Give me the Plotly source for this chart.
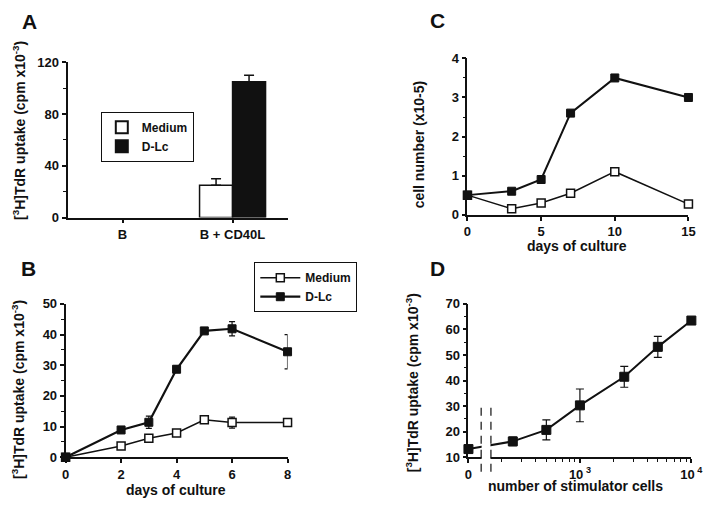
import plotly.graph_objects as go

# ---------------- data ----------------
# Panel A
a_categories = ["B", "B + CD40L"]
a_medium = [None, 25]
a_medium_err = [0, 5]
a_dlc = [None, 105]
a_dlc_err = [0, 5]

# Panel B
b_days = [0, 2, 3, 4, 5, 6, 8]
b_medium = [0, 3.7, 6.2, 7.9, 12.2, 11.3, 11.3]
b_medium_err = [0, 0.5, 1.0, 0.5, 0.5, 1.8, 0.8]
b_dlc = [0, 8.9, 11.4, 28.7, 41.2, 41.9, 34.4]
b_dlc_err = [0, 0.5, 2.0, 1.0, 0.5, 2.3, 5.6]

# Panel C
c_days = [0, 3, 5, 7, 10, 15]
c_medium = [0.5, 0.15, 0.3, 0.55, 1.1, 0.27]
c_dlc = [0.5, 0.6, 0.9, 2.6, 3.5, 3.0]

# Panel D
d_cells = [0, 250, 500, 1000, 2500, 5000, 10000]
d_uptake = [13.2, 16.2, 20.7, 30.3, 41.5, 53.2, 63.5]
d_err = [0.8, 1.7, 3.9, 6.4, 4.1, 4.1, 0.5]
D_ZERO_POS = 100  # position on the log axis where the "0" group is drawn

FONT = "Liberation Sans, Arial, Helvetica, sans-serif"
BLACK = "#111111"

W, H = 720, 506


def px_x(p):
    return p / W


def px_y(p):
    return 1 - p / H


fig = go.Figure()

# ---------------- Panel A ----------------
fig.add_trace(go.Bar(
    x=a_categories, y=a_medium, name="Medium",
    marker=dict(color="white", line=dict(color=BLACK, width=1.5)),
    error_y=dict(type="data", array=a_medium_err, arrayminus=[0, 0], symmetric=False,
                 color=BLACK, thickness=1.5, width=5),
    xaxis="x", yaxis="y", legend="legend",
))
fig.add_trace(go.Bar(
    x=a_categories, y=a_dlc, name="D-Lc",
    marker=dict(color=BLACK, line=dict(color=BLACK, width=1.5)),
    error_y=dict(type="data", array=a_dlc_err, arrayminus=[0, 0], symmetric=False,
                 color=BLACK, thickness=1.5, width=5),
    xaxis="x", yaxis="y", legend="legend",
))

# ---------------- Panel B ----------------
fig.add_trace(go.Scatter(
    x=b_days, y=b_medium, name="Medium", mode="lines+markers",
    line=dict(color=BLACK, width=1.5),
    marker=dict(symbol="square", size=8, color="white", line=dict(color=BLACK, width=1.5)),
    error_y=dict(type="data", array=b_medium_err, color=BLACK, thickness=1.2, width=3),
    xaxis="x2", yaxis="y2", legend="legend2", cliponaxis=False,
))
fig.add_trace(go.Scatter(
    x=b_days, y=b_dlc, name="D-Lc", mode="lines+markers",
    line=dict(color=BLACK, width=2.2),
    marker=dict(symbol="square", size=8, color=BLACK, line=dict(color=BLACK, width=1)),
    error_y=dict(type="data", array=b_dlc_err, color=BLACK, thickness=1.2, width=3),
    xaxis="x2", yaxis="y2", legend="legend2", cliponaxis=False,
))

# ---------------- Panel C ----------------
fig.add_trace(go.Scatter(
    x=c_days, y=c_medium, mode="lines+markers", showlegend=False,
    line=dict(color=BLACK, width=1.5),
    marker=dict(symbol="square", size=8, color="white", line=dict(color=BLACK, width=1.5)),
    xaxis="x3", yaxis="y3", cliponaxis=False,
))
fig.add_trace(go.Scatter(
    x=c_days, y=c_dlc, mode="lines+markers", showlegend=False,
    line=dict(color=BLACK, width=2),
    marker=dict(symbol="square", size=8, color=BLACK, line=dict(color=BLACK, width=1)),
    xaxis="x3", yaxis="y3", cliponaxis=False,
))

# ---------------- Panel D ----------------
d_pos = [D_ZERO_POS if v == 0 else v for v in d_cells]
fig.add_trace(go.Scatter(
    x=d_pos, y=d_uptake, mode="lines+markers", showlegend=False,
    line=dict(color=BLACK, width=2),
    marker=dict(symbol="square", size=9, color=BLACK, line=dict(color=BLACK, width=1)),
    error_y=dict(type="data", array=d_err, color=BLACK, thickness=1.2, width=4),
    xaxis="x4", yaxis="y4", cliponaxis=False,
))

tickfont = dict(family=FONT, size=13, color=BLACK, weight="bold")
common = dict(showline=True, linecolor=BLACK, linewidth=1.8, ticks="outside",
              ticklen=4, tickwidth=1.5, tickcolor=BLACK, showgrid=False,
              zeroline=False, tickfont=tickfont)
minor = dict(ticks="outside", ticklen=3, tickwidth=1, tickcolor=BLACK, showgrid=False)
legend_font = dict(family=FONT, size=12, color=BLACK, weight="bold")

fig.update_layout(
    width=W, height=H, autosize=False,
    margin=dict(l=0, r=0, t=0, b=0),
    paper_bgcolor="white", plot_bgcolor="white",
    font=dict(family=FONT, color=BLACK, size=12, weight="bold"),
    barmode="group", bargap=0.4, bargroupgap=0,
    xaxis=dict(domain=[px_x(65), px_x(290)], anchor="y", type="category",
               range=[-0.5, 1.5], **common),
    yaxis=dict(domain=[px_y(217), px_y(57)], anchor="x", range=[0, 120],
               tickvals=[0, 40, 80, 120], minor=dict(dtick=20, **minor), **common),
    xaxis2=dict(domain=[px_x(63), px_x(290)], anchor="y2", range=[0, 8],
                tickvals=[0, 2, 4, 6, 8], **common),
    yaxis2=dict(domain=[px_y(464), px_y(306)], anchor="x2", range=[0, 50],
                tickvals=[0, 10, 20, 30, 40, 50], minor=dict(dtick=5, **minor), **common),
    xaxis3=dict(domain=[px_x(474), px_x(700)], anchor="y3", range=[0, 15],
                tickvals=[0, 5, 10, 15], **common),
    yaxis3=dict(domain=[px_y(214), px_y(53)], anchor="x3", range=[0, 4],
                tickvals=[0, 1, 2, 3, 4], minor=dict(dtick=0.5, **minor), **common),
    xaxis4=dict(domain=[px_x(475), px_x(703)], anchor="y4", type="log", range=[2, 4],
                tickvals=[D_ZERO_POS, 1000, 10000],
                ticktext=["0", "10<sup> 3</sup>", "10<sup> 4</sup>"],
                minor=dict(tickvals=[200, 300, 400, 500, 600, 700, 800, 900,
                                     2000, 3000, 4000, 5000, 6000, 7000, 8000, 9000],
                           **minor),
                **common),
    yaxis4=dict(domain=[px_y(464), px_y(306)], anchor="x4", range=[10, 70],
                tickvals=[10, 20, 30, 40, 50, 60, 70], minor=dict(dtick=5, tick0=5, **minor),
                **common),
    legend=dict(x=px_x(99), y=px_y(108), xanchor="left", yanchor="top",
                bordercolor=BLACK, borderwidth=1, bgcolor="white",
                font=legend_font, tracegroupgap=0, itemsizing="constant"),
    legend2=dict(x=px_x(256), y=px_y(263), xanchor="left", yanchor="top",
                 bordercolor=BLACK, borderwidth=1, bgcolor="white",
                 font=legend_font, tracegroupgap=0, itemwidth=40),
)

# break in panel D's x axis
fig.add_shape(type="rect", xref="paper", yref="paper",
              x0=px_x(488.5), x1=px_x(497.5), y0=px_y(476), y1=px_y(440),
              fillcolor="white", line=dict(width=0), layer="above")
for bx in (488, 498):
    fig.add_shape(type="line", xref="paper", yref="paper",
                  x0=px_x(bx), x1=px_x(bx), y0=px_y(479), y1=px_y(413),
                  line=dict(color=BLACK, width=1.2, dash="8px,6px"), layer="above")

ann_font = dict(family=FONT, size=14, color=BLACK, weight="bold")
letter_font = dict(family=FONT, size=21, color=BLACK, weight="bold")


def ann(text, x, y, font, angle=0):
    fig.add_annotation(text=text, x=px_x(x), y=px_y(y), xref="paper", yref="paper",
                       showarrow=False, font=font, textangle=angle,
                       xanchor="center", yanchor="middle")


ann("A", 26, 15, letter_font)
ann("B", 25, 270, letter_font)
ann("C", 443, 14, letter_font)
ann("D", 443, 270, letter_font)

ytitle = "[<sup>3</sup>H]TdR uptake (cpm x10<sup>-3</sup>)"
ann(ytitle, 16, 127, ann_font, -90)
ann(ytitle, 15, 394, ann_font, -90)
ann("cell number (x10-5)", 424, 142, ann_font, -90)
ann(ytitle, 417, 387, ann_font, -90)

ann("days of culture", 176, 498, ann_font)
ann("days of culture", 586, 246, ann_font)
ann("number of stimulator cells", 584, 494, ann_font)

# keep the figure flush with the page's top-left corner, no toolbar
fig.write_html("out.html",
               config={"displayModeBar": False},
               post_script="document.body.style.margin='0px';document.body.style.padding='0px';")
